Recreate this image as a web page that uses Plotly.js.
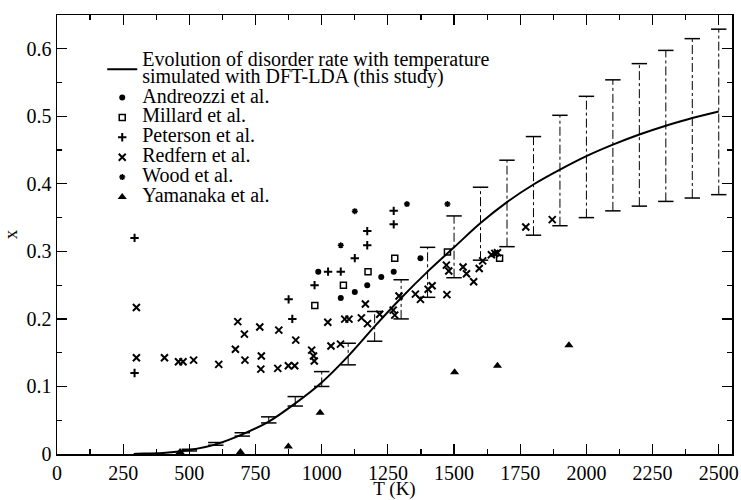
<!DOCTYPE html>
<html>
<head>
<meta charset="utf-8">
<script src="https://cdn.plot.ly/plotly-3.0.1.min.js"></script>
<style>html,body{margin:0;padding:0;background:#fff;}#chart{width:741px;height:500px;}</style>
</head>
<body>
<div id="chart"></div>
<script>
// DFT-LDA simulated curve
const curveT = [290, 300, 400, 500, 600, 700, 800, 900, 1000, 1100, 1200, 1300, 1400, 1500, 1600, 1700, 1800, 1900, 2000, 2100, 2200, 2300, 2400, 2500];
const curveX = [0, 0.0003, 0.0015, 0.006, 0.0143, 0.029, 0.048, 0.075, 0.106, 0.145, 0.189, 0.231, 0.27, 0.306, 0.342, 0.373, 0.399, 0.421, 0.441, 0.458, 0.473, 0.486, 0.4975, 0.507];
// DFT-LDA uncertainty ranges
const barT  = [500, 600, 700, 800, 900, 1000, 1100, 1200, 1300, 1400, 1500, 1600, 1700, 1800, 1900, 2000, 2100, 2200, 2300, 2400, 2500];
const barLo = [0.0045, 0.013, 0.0265, 0.046, 0.071, 0.100, 0.132, 0.167, 0.200, 0.232, 0.261, 0.287, 0.307, 0.324, 0.338, 0.350, 0.360, 0.367, 0.374, 0.379, 0.384];
const barHi = [0.007, 0.017, 0.0315, 0.055, 0.085, 0.122, 0.164, 0.211, 0.258, 0.306, 0.3525, 0.395, 0.435, 0.470, 0.5015, 0.5296, 0.554, 0.578, 0.5976, 0.615, 0.629];

const andreozziT = [987, 1072, 1125, 1172, 1225, 1272, 1373];
const andreozziX = [0.270, 0.231, 0.240, 0.250, 0.262, 0.270, 0.290];

const millardT = [974, 1082, 1175, 1276, 1475, 1672];
const millardX = [0.220, 0.250, 0.270, 0.290, 0.299, 0.290];

const petersonT = [293, 293, 875, 889, 973, 1024, 1072, 1125, 1172, 1172, 1272, 1272];
const petersonX = [0.120, 0.320, 0.229, 0.200, 0.250, 0.270, 0.270, 0.290, 0.309, 0.330, 0.340, 0.360];

const redfernT = [300, 300, 406, 459, 476, 516, 611, 674, 683, 708, 710, 766, 772, 770, 838, 834, 874, 898, 902, 962, 969, 972, 1023, 1035, 1071, 1087, 1103, 1150, 1165, 1173, 1219, 1270, 1276, 1292, 1354, 1373, 1402, 1417, 1473, 1471, 1480, 1534, 1547, 1574, 1595, 1608, 1641, 1654, 1664, 1771, 1871];
const redfernX = [0.217, 0.1425, 0.1425, 0.1366, 0.1366, 0.139, 0.1327, 0.155, 0.196, 0.1775, 0.139, 0.188, 0.145, 0.1257, 0.1834, 0.1268, 0.1307, 0.1307, 0.1686, 0.1538, 0.145, 0.1376, 0.195, 0.160, 0.1627, 0.1997, 0.1997, 0.2016, 0.222, 0.193, 0.207, 0.213, 0.2056, 0.234, 0.2367, 0.229, 0.244, 0.249, 0.236, 0.2796, 0.271, 0.277, 0.267, 0.255, 0.2746, 0.286, 0.295, 0.297, 0.298, 0.336, 0.347];

const woodT = [1072, 1125, 1322, 1475];
const woodX = [0.309, 0.3595, 0.370, 0.370];

const yamanakaT = [465, 693, 874, 994, 1502, 1664, 1934];
const yamanakaX = [0.003, 0.003, 0.011, 0.061, 0.121, 0.1306, 0.161];

const names = [
  'Evolution of disorder rate with temperature<br>simulated with DFT-LDA (this study)',
  'Andreozzi et al.', 'Millard et al.', 'Peterson et al.', 'Redfern et al.', 'Wood et al.', 'Yamanaka et al.'
];

const xTicks = [0, 250, 500, 750, 1000, 1250, 1500, 1750, 2000, 2250, 2500];
const yTicks = [0, 0.1, 0.2, 0.3, 0.4, 0.5, 0.6];

const FONT = 'Liberation Serif, Times New Roman, Times, DejaVu Serif, serif';
const big = s => '<span style="font-size:20px">' + s + '</span>';

// stems built from the range arrays
const stemX = [], stemY = [], capX = [], capY = [];
barT.forEach((t, i) => {
  stemX.push(t, t, null); stemY.push(barLo[i], barHi[i], null);
  capX.push(t, t); capY.push(barLo[i], barHi[i]);
});

const traces = [
  {x: stemX, y: stemY, mode: 'lines', line: {color: '#000', width: 1, dash: 'dashdot'}, showlegend: false, hoverinfo: 'skip'},
  {x: capX, y: capY, mode: 'markers', marker: {symbol: 'line-ew-open', size: 11, color: '#000', line: {color: '#000', width: 1.5}}, showlegend: false, hoverinfo: 'skip'},
  {x: curveT, y: curveX, mode: 'lines', name: big(names[0]), line: {color: '#000', width: 2, shape: 'spline'}},
  {x: andreozziT, y: andreozziX, mode: 'markers', name: big(names[1]), marker: {symbol: 'circle', size: 6, color: '#000'}},
  {x: millardT, y: millardX, mode: 'markers', name: big(names[2]), marker: {symbol: 'square-open', size: 6, color: '#000', line: {color: '#000', width: 1.5}}},
  {x: petersonT, y: petersonX, mode: 'markers', name: big(names[3]), marker: {symbol: 'cross-thin-open', size: 6, color: '#000', line: {color: '#000', width: 2}}},
  {x: redfernT, y: redfernX, mode: 'markers', name: big(names[4]), marker: {symbol: 'x-thin-open', size: 7, color: '#000', line: {color: '#000', width: 2}}},
  {x: woodT, y: woodX, mode: 'markers', name: big(names[5]), marker: {symbol: 'asterisk-open', size: 5, color: '#000', line: {color: '#000', width: 1.5}}},
  {x: yamanakaT, y: yamanakaX, mode: 'markers', name: big(names[6]), marker: {symbol: 'triangle-up', size: 8, color: '#000'}}
];

const axisCommon = {
  showline: true, linecolor: '#000', linewidth: 1.5, mirror: 'ticks',
  ticks: 'inside', ticklen: 10, tickwidth: 1.2, tickcolor: '#000',
  showgrid: false, zeroline: false,
  tickfont: {family: FONT, size: 20, color: '#000'}
};

const layout = {
  width: 741, height: 500,
  margin: {l: 57, r: 9, t: 15, b: 46},
  paper_bgcolor: '#fff', plot_bgcolor: '#fff',
  font: {family: FONT, color: '#000'},
  showlegend: true,
  legend: {x: 0.067, y: 0.930, xanchor: 'left', yanchor: 'top', bgcolor: 'rgba(0,0,0,0)',
           font: {family: FONT, size: 13, color: '#000'}, tracegroupgap: 0},
  xaxis: Object.assign({}, axisCommon, {
    range: [0, 2550], tickvals: xTicks, ticktext: xTicks.map(String),
    minor: {dtick: 125, tick0: 0, ticks: 'inside', ticklen: 5, tickwidth: 1.2, tickcolor: '#000'},
    title: {text: 'T (K)', font: {family: FONT, size: 19, color: '#000'}, standoff: 6}
  }),
  yaxis: Object.assign({}, axisCommon, {
    range: [0, 0.65], tickvals: yTicks, ticktext: yTicks.map(String),
    minor: {dtick: 0.05, tick0: 0, ticks: 'inside', ticklen: 5, tickwidth: 1.2, tickcolor: '#000'},
    title: {text: 'x', font: {family: FONT, size: 19, color: '#000'}, standoff: 10}
  })
};

Plotly.newPlot('chart', traces, layout, {staticPlot: true, displayModeBar: false});
</script>
</body>
</html>
